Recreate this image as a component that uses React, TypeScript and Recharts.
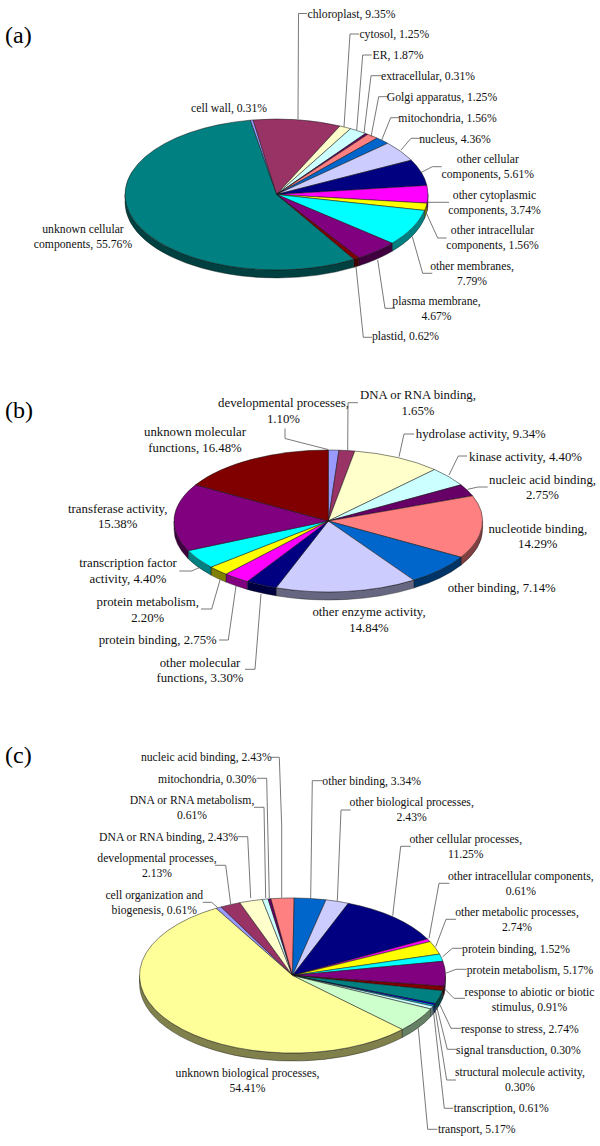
import { Pie, PieChart } from "recharts";

// Excel default pie colours, in series order
const palette = [
  "#9999FF", "#993366", "#FFFFCC", "#CCFFFF", "#660066", "#FF8080", "#0066CC",
  "#CCCCFF", "#000080", "#FF00FF", "#FFFF00", "#00FFFF", "#800080", "#800000",
  "#008080", "#0000FF", "#00CCFF", "#CCFFFF", "#CCFFCC", "#FFFF99",
];

const cellularNames = [
  "cell wall", "chloroplast", "cytosol", "ER", "extracellular", "Golgi apparatus",
  "mitochondria", "nucleus", "other cellular components", "other cytoplasmic components",
  "other intracellular components", "other membranes", "plasma membrane", "plastid",
  "unknown cellular components",
];
const cellularValues = [0.31, 9.35, 1.25, 1.87, 0.31, 1.25, 1.56, 4.36, 5.61, 3.74, 1.56, 7.79, 4.67, 0.62, 55.76];

const molecularNames = [
  "developmental processes", "DNA or RNA binding", "hydrolase activity", "kinase activity",
  "nucleic acid binding", "nucleotide binding", "other binding", "other enzyme activity",
  "other molecular functions", "protein binding", "protein metabolism",
  "transcription factor activity", "transferase activity", "unknown molecular functions",
];
const molecularValues = [1.1, 1.65, 9.34, 4.4, 2.75, 14.29, 7.14, 14.84, 3.3, 2.75, 2.2, 4.4, 15.38, 16.48];

const biologicalNames = [
  "cell organization and biogenesis", "developmental processes", "DNA or RNA binding",
  "DNA or RNA metabolism", "mitochondria", "nucleic acid binding", "other binding",
  "other biological processes", "other cellular processes", "other intracellular components",
  "other metabolic processes", "protein binding", "protein metabolism",
  "response to abiotic or biotic stimulus", "response to stress", "signal transduction",
  "structural molecule activity", "transcription", "transport", "unknown biological processes",
];
const biologicalValues = [0.61, 2.13, 2.43, 0.61, 0.3, 2.43, 3.34, 2.43, 11.25, 0.61, 2.74, 1.52, 5.17, 0.91, 2.74, 0.3, 0.3, 0.61, 5.17, 54.41];

type Spot = { x: number; y: number; words?: number; leader?: number[][] };

// label placement, same order as the names. words = words on the first line
const cellularSpots: Spot[] = [
  { x: 229, y: 112 },
  { x: 351.5, y: 17.5, leader: [[298, 119], [298.5, 13.5], [307, 13.5]] },
  { x: 394.3, y: 38, leader: [[344, 127], [350, 34], [359, 34]] },
  { x: 398, y: 59, leader: [[356.7, 130], [362.7, 55], [371.7, 55]] },
  { x: 428, y: 80, leader: [[364, 133], [371, 75.7], [381.7, 75.7]] },
  { x: 442, y: 101, leader: [[371, 136.7], [378.7, 96.7], [388, 96.7]] },
  { x: 447.5, y: 121.7, leader: [[381.7, 140], [390.7, 117.7], [399, 117.7]] },
  { x: 455, y: 142.7, leader: [[401, 150], [411, 138.3], [420, 138.3]] },
  { x: 487.8, y: 163.3, words: 2, leader: [[420.7, 172.7], [432.3, 166.7], [441.7, 166.7]] },
  { x: 494.5, y: 199, words: 2, leader: [[427.7, 202.3], [449, 202.3]] },
  { x: 492.5, y: 234.3, words: 2, leader: [[425.7, 211.7], [437.7, 238], [446.7, 238]] },
  { x: 472, y: 270, words: 2, leader: [[412.3, 236.7], [422.7, 273.3], [432.3, 273.3]] },
  { x: 436.5, y: 305.3, words: 2, leader: [[377.7, 260], [385, 308.3], [395, 308.3]] },
  { x: 405.5, y: 340, leader: [[356, 266.7], [363.3, 337.3], [372, 337.3]] },
  { x: 83, y: 233, words: 2 },
];

const molecularSpots: Spot[] = [
  { x: 283.5, y: 407, words: 2, leader: [[285, 428.5], [285, 438.5], [328, 449.5]] },
  { x: 418, y: 399.3, words: 4, leader: [[347.7, 450], [348, 402.7], [358, 402.7]] },
  { x: 480.8, y: 437.7, leader: [[399, 456.7], [404, 434], [414, 434]] },
  { x: 525.5, y: 461, leader: [[449, 475], [458.3, 456], [467, 456]] },
  { x: 542.5, y: 483.7, words: 3, leader: [[467.7, 489.3], [478, 487], [487.7, 487]] },
  { x: 537.8, y: 532.7, words: 2 },
  { x: 501.7, y: 592.3 },
  { x: 369, y: 616, words: 3 },
  { x: 200, y: 666.7, words: 2, leader: [[261, 594], [255, 669.3], [245, 669.3]] },
  { x: 157.7, y: 644, leader: [[236, 586], [228.3, 640], [219, 640]] },
  { x: 147.7, y: 606, words: 2, leader: [[220, 580], [211.7, 609], [201, 609]] },
  { x: 128, y: 567.3, words: 2, leader: [[200, 567.3], [191.7, 571], [179.3, 571]] },
  { x: 117.7, y: 512.7, words: 2 },
  { x: 195, y: 436, words: 2 },
];

const biologicalSpots: Spot[] = [
  { x: 154.3, y: 899, words: 3, leader: [[217.7, 907.7], [211.7, 902.3], [202.7, 902.3]] },
  { x: 157, y: 862.3, words: 2, leader: [[230.7, 904], [225.7, 865.3], [215, 865.3]] },
  { x: 168.5, y: 840.7, leader: [[250.7, 898], [247.7, 836.7], [237.3, 836.7]] },
  { x: 192, y: 804, words: 4, leader: [[265.7, 898], [264, 807.3], [254, 807.3]] },
  { x: 207.3, y: 782.7, leader: [[269.3, 898.3], [266.7, 778.3], [256.7, 778.3]] },
  { x: 206.3, y: 761, leader: [[281.7, 897.7], [281.7, 826], [279.3, 757.3], [270.7, 757.3]] },
  { x: 371.7, y: 785, leader: [[310.7, 898], [312.3, 780.7], [322.7, 780.7]] },
  { x: 411.7, y: 806.3, words: 3, leader: [[337.3, 901], [341, 810], [350.7, 810]] },
  { x: 465.8, y: 843, words: 3, leader: [[392.7, 915.7], [400.7, 846.3], [410.7, 846.3]] },
  { x: 520.8, y: 879.7, words: 3, leader: [[429, 938.3], [439, 883.3], [449.3, 883.3]] },
  { x: 517, y: 916, words: 3, leader: [[435.7, 946.7], [446, 919.3], [456, 919.3]] },
  { x: 516, y: 952.7, leader: [[442.7, 956.7], [452.3, 948.3], [462.3, 948.3]] },
  { x: 530, y: 974.3, leader: [[445.7, 973.3], [456, 969.3], [466.7, 969.3]] },
  { x: 529.5, y: 996, words: 5, leader: [[444, 988.3], [454, 998.3], [465, 998.3]] },
  { x: 519.8, y: 1032.7, leader: [[440, 1005], [451, 1028.3], [461, 1028.3]] },
  { x: 518.3, y: 1054, leader: [[436.7, 1006.7], [447.3, 1049.3], [456.7, 1049.3]] },
  { x: 520, y: 1075.7, words: 3, leader: [[435, 1008.3], [446.7, 1080], [456, 1080]] },
  { x: 501.3, y: 1112.3, leader: [[433.3, 1010], [444.3, 1108.3], [453.3, 1108.3]] },
  { x: 476.7, y: 1133.3, leader: [[418.3, 1028.3], [427.7, 1129.3], [437.3, 1129.3]] },
  { x: 247.5, y: 1076.7, words: 3 },
];

const toRows = (names: string[], values: number[]) =>
  names.map((name, i) => ({ name, value: values[i], fill: palette[i] }));

const darken = (hex: string) => {
  const n = parseInt(hex.slice(1), 16);
  const half = (v: number) => Math.round(v / 2);
  return `rgb(${half(n >> 16)},${half((n >> 8) & 255)},${half(n & 255)})`;
};

// Pie only knows circles, so flatten each sector into an ellipse with a rim under it
const tiltedSector = (squash: number, depth: number) => (props: any) => {
  const { cx, cy, outerRadius: rx, startAngle, endAngle, fill } = props;
  const ry = rx * squash;
  const at = (deg: number, drop = 0) => {
    const r = (deg * Math.PI) / 180;
    return `${cx + rx * Math.cos(r)} ${cy - ry * Math.sin(r) + drop}`;
  };
  const large = startAngle - endAngle > 180 ? 1 : 0;
  const top = `M${cx} ${cy}L${at(startAngle)}A${rx} ${ry} 0 ${large} 1 ${at(endAngle)}Z`;
  const hi = Math.min(startAngle, 0);
  const lo = Math.max(endAngle, -180);
  return (
    <g>
      {hi > lo && (
        <path
          d={`M${at(hi)}A${rx} ${ry} 0 0 1 ${at(lo)}L${at(lo, depth)}A${rx} ${ry} 0 0 0 ${at(hi, depth)}Z`}
          fill={darken(fill)}
          stroke="#111"
          strokeWidth={0.4}
        />
      )}
      <path d={top} fill={fill} stroke="#111" strokeWidth={0.5} />
    </g>
  );
};

const calloutLabel =
  (
    names: string[],
    values: number[],
    spots: Spot[],
    fontSize: number,
    lineGap: number,
  ) =>
  ({ index }: any) => {
    const { x, y, words, leader } = spots[index];
    const text = `${names[index]}, ${values[index].toFixed(2)}%`.split(" ");
    const lines = words ? [text.slice(0, words).join(" "), text.slice(words).join(" ")] : [text.join(" ")];
    return (
      <g>
        {leader && (
          <polyline
            points={leader.map((p) => p.join(",")).join(" ")}
            fill="none"
            stroke="#555"
            strokeWidth={0.8}
          />
        )}
        {lines.map((line, i) => (
          <text
            key={i}
            x={x}
            y={y + i * lineGap}
            textAnchor="middle"
            fontFamily="Liberation Serif"
            fontSize={fontSize}
            fill="#111"
          >
            {line}
          </text>
        ))}
      </g>
    );
  };

const panelTag = { fontFamily: "Liberation Serif", fontSize: 24, fill: "#000" };

export default function App() {
  return (
    <div style={{ position: "absolute", left: 0, top: 0, width: 600, height: 1146, background: "#fff" }}>
      <PieChart width={600} height={1146} margin={{ top: 0, right: 0, bottom: 0, left: 0 }}>
        <Pie
          data={toRows(cellularNames, cellularValues)}
          dataKey="value"
          nameKey="name"
          cx={276.5}
          cy={194.5}
          outerRadius={151.5}
          startAngle={100}
          endAngle={-260}
          shape={tiltedSector(0.498, 8)}
          label={calloutLabel(cellularNames, cellularValues, cellularSpots, 11.7, 14.5)}
          labelLine={false}
          isAnimationActive={false}
        />
        <Pie
          data={toRows(molecularNames, molecularValues)}
          dataKey="value"
          nameKey="name"
          cx={328.3}
          cy={521}
          outerRadius={154.3}
          startAngle={90}
          endAngle={-270}
          shape={tiltedSector(0.46, 8)}
          label={calloutLabel(molecularNames, molecularValues, molecularSpots, 12.8, 15.6)}
          labelLine={false}
          isAnimationActive={false}
        />
        <Pie
          data={toRows(biologicalNames, biologicalValues)}
          dataKey="value"
          nameKey="name"
          cx={292.5}
          cy={975.5}
          outerRadius={153}
          startAngle={120}
          endAngle={-240}
          shape={tiltedSector(0.507, 8)}
          label={calloutLabel(biologicalNames, biologicalValues, biologicalSpots, 11.7, 15)}
          labelLine={false}
          isAnimationActive={false}
        />
        <text x={5} y={43} {...panelTag}>(a)</text>
        <text x={5} y={417.7} {...panelTag}>(b)</text>
        <text x={5} y={763} {...panelTag}>(c)</text>
      </PieChart>
    </div>
  );
}
